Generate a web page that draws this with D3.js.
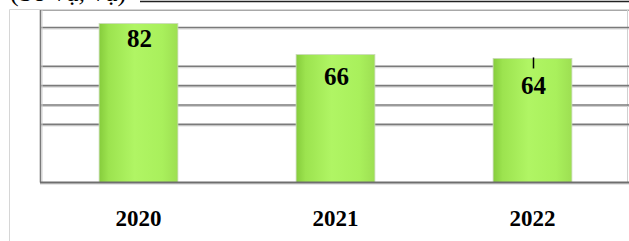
<!DOCTYPE html>
<html>
<head>
<meta charset="utf-8">
<script src="https://cdn.jsdelivr.net/npm/d3@7/dist/d3.min.js"></script>
<style>
  html, body { margin: 0; padding: 0; background: #fff; }
  svg { display: block; }
</style>
</head>
<body>
<svg id="chart" width="629" height="241"></svg>
<script>
// ---- data ----
const categories = ["2020", "2021", "2022"];
const values = [82, 66, 64];
const gridTicks = [30, 40, 50, 60, 80];
const unitLabel = "(Số vụ, vụ)";

// ---- styling constants ----
const labelDy = [23, 30, 36];
const W = 629, H = 241;
const plot = { left: 40, right: 631, top: 10, bottom: 182.5 };

const svg = d3.select("#chart");

const x = d3.scaleBand()
  .domain(categories)
  .range([plot.left, plot.right])
  .paddingInner(0.6)
  .paddingOuter(0.3);

const y = d3.scaleLinear()
  .domain([0, 89])
  .range([plot.bottom, plot.top]);

// gradient
const defs = svg.append("defs");
const grad = defs.append("linearGradient").attr("id", "barGrad")
  .attr("x1", "0%").attr("x2", "100%").attr("y1", "0%").attr("y2", "0%");
[["0%", "#86cc3c"], ["12%", "#9ce34f"], ["45%", "#b0f564"], ["80%", "#a9f05c"], ["100%", "#9ddf52"]]
  .forEach(([o, c]) => grad.append("stop").attr("offset", o).attr("stop-color", c));

// top cropped unit text
svg.append("text")
  .attr("x", 10).attr("y", 1)
  .attr("font-family", "Liberation Serif, Times New Roman, serif")
  .attr("font-size", 26)
  .attr("fill", "#000")
  .text(unitLabel);

// top dark line
svg.append("line")
  .attr("x1", 140).attr("x2", W).attr("y1", 1.5).attr("y2", 1.5)
  .attr("stroke", "#222").attr("stroke-width", 1.5);

// outer chart border (light)
svg.append("path")
  .attr("d", `M9.5,${H} V9.5 H${W}`)
  .attr("fill", "none").attr("stroke", "#d6d6d6").attr("stroke-width", 1);

// plot area border
svg.append("line")
  .attr("x1", plot.left).attr("x2", W).attr("y1", y(89) + 0.5).attr("y2", y(89) + 0.5)
  .attr("stroke", "#a8a8a8").attr("stroke-width", 1.2);
svg.append("line")
  .attr("x1", 627.5).attr("x2", 627.5).attr("y1", plot.top).attr("y2", plot.bottom)
  .attr("stroke", "#d0d0d0").attr("stroke-width", 1);

// gridlines (with light shadow)
const grid = svg.append("g");
grid.selectAll("line.shadow").data(gridTicks).join("line")
  .attr("class", "shadow")
  .attr("x1", plot.left).attr("x2", W)
  .attr("y1", d => y(d) + 1.5).attr("y2", d => y(d) + 1.5)
  .attr("stroke", "#cfcfcf").attr("stroke-width", 1);
grid.selectAll("line.main").data(gridTicks).join("line")
  .attr("class", "main")
  .attr("x1", plot.left).attr("x2", W)
  .attr("y1", d => y(d)).attr("y2", d => y(d))
  .attr("stroke", "#7a7a7a").attr("stroke-width", 1.6);

// left plot border
svg.append("line")
  .attr("x1", plot.left + 0.5).attr("x2", plot.left + 0.5)
  .attr("y1", plot.top).attr("y2", plot.bottom)
  .attr("stroke", "#7a7a7a").attr("stroke-width", 1.6);
svg.append("line")
  .attr("x1", plot.left + 2).attr("x2", plot.left + 2)
  .attr("y1", plot.top).attr("y2", plot.bottom)
  .attr("stroke", "#d0d0d0").attr("stroke-width", 1);

// bars
const data = categories.map((c, i) => ({ c, v: values[i], dy: labelDy[i] }));
svg.append("g").selectAll("rect").data(data).join("rect")
  .attr("x", d => x(d.c))
  .attr("y", d => y(d.v))
  .attr("width", x.bandwidth())
  .attr("height", d => y(0) - y(d.v))
  .attr("fill", "url(#barGrad)")
  .attr("stroke", "#c9d9b8").attr("stroke-width", 0.8);

// baseline axis
svg.append("line")
  .attr("x1", plot.left).attr("x2", W).attr("y1", plot.bottom + 1.5).attr("y2", plot.bottom + 1.5)
  .attr("stroke", "#cfcfcf").attr("stroke-width", 1);
svg.append("line")
  .attr("x1", plot.left).attr("x2", W).attr("y1", plot.bottom).attr("y2", plot.bottom)
  .attr("stroke", "#6e6e6e").attr("stroke-width", 2);

// value labels
svg.append("g").selectAll("text").data(data).join("text")
  .attr("x", d => x(d.c) + x.bandwidth() / 2 + 1)
  .attr("y", d => y(d.v) + d.dy)
  .attr("text-anchor", "middle")
  .attr("font-family", "Liberation Serif, Times New Roman, serif")
  .attr("font-weight", "bold")
  .attr("font-size", 25)
  .attr("fill", "#000")
  .text(d => d.v);

// small tick mark above the last label
const last = data[data.length - 1];
svg.append("line")
  .attr("x1", x(last.c) + x.bandwidth() / 2 + 1).attr("x2", x(last.c) + x.bandwidth() / 2 + 1)
  .attr("y1", y(last.v) - 1).attr("y2", y(last.v) + 10)
  .attr("stroke", "#000").attr("stroke-width", 1.5);

// category labels
const xAxis = svg.append("g")
  .attr("transform", `translate(0, ${plot.bottom})`)
  .call(d3.axisBottom(x).tickSize(0).tickPadding(0));
xAxis.select(".domain").remove();
xAxis.selectAll("text")
  .attr("dy", 0)
  .attr("y", 43.5)
  .attr("font-family", "Liberation Serif, Times New Roman, serif")
  .attr("font-weight", "bold")
  .attr("font-size", 23)
  .attr("fill", "#000");
</script>
</body>
</html>
